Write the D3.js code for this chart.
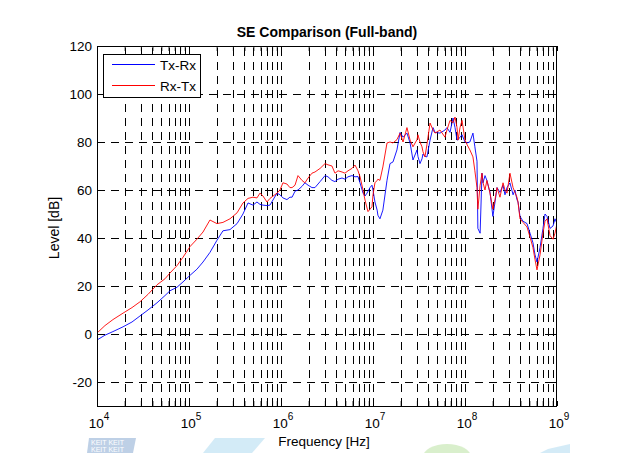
<!DOCTYPE html>
<html><head><meta charset="utf-8">
<script src="https://cdn.jsdelivr.net/npm/d3@7"></script>
<style>
body{margin:0;background:#fff;}
svg text{font-family:"Liberation Sans",Arial,Helvetica,sans-serif;fill:#000;}
</style></head>
<body>
<svg id="chart" width="619" height="453"></svg>
<script>
// ---------- data ----------
const title = "SE Comparison (Full-band)";
const xLabel = "Frequency [Hz]";
const yLabel = "Level [dB]";
const seriesNames = ["Tx-Rx", "Rx-Tx"];
const xDecades = [4, 5, 6, 7, 8, 9];
const yTicks = [-20, 0, 20, 40, 60, 80, 100, 120];

const freq = [1.00e4,1.22e4,1.49e4,1.92e4,2.40e4,2.93e4,3.58e4,4.49e4,5.48e4,6.21e4,7.41e4,8.61e4,
1.03e5,1.22e5,1.42e5,1.69e5,2.01e5,2.34e5,2.79e5,3.33e5,3.86e5,4.38e5,4.96e5,5.48e5,5.91e5,6.37e5,7.04e5,7.59e5,9.05e5,9.75e5,
1.05e6,1.16e6,1.25e6,1.32e6,1.42e6,1.53e6,1.69e6,1.82e6,1.97e6,2.17e6,2.34e6,2.66e6,3.01e6,3.24e6,3.58e6,3.86e6,4.17e6,4.61e6,4.96e6,5.35e6,5.91e6,6.37e6,6.87e6,7.22e6,7.79e6,8.19e6,8.61e6,8.83e6,9.28e6,9.75e6,
1.00e7,1.05e7,1.11e7,1.13e7,1.19e7,1.28e7,1.42e7,1.53e7,1.65e7,1.82e7,1.97e7,2.12e7,2.34e7,2.53e7,2.72e7,3.01e7,3.08e7,3.24e7,3.41e7,3.49e7,3.67e7,3.86e7,4.17e7,4.49e7,4.72e7,5.35e7,6.06e7,6.37e7,6.87e7,7.41e7,7.79e7,8.19e7,8.40e7,8.83e7,9.28e7,
1.00e8,1.05e8,1.13e8,1.22e8,1.28e8,1.35e8,1.38e8,1.46e8,1.53e8,1.57e8,1.65e8,1.73e8,1.87e8,2.01e8,2.12e8,2.23e8,2.40e8,2.59e8,2.72e8,2.86e8,3.08e8,3.33e8,3.49e8,3.67e8,3.77e8,3.96e8,4.27e8,4.72e8,5.09e8,5.48e8,5.77e8,6.06e8,6.54e8,7.04e8,7.41e8,7.79e8,8.40e8,9.05e8,9.51e8,1.00e9];

const txRx = [-2.5,-0.5,1,3,5,7.5,10,13,16,18,19.5,21.7,
24.5,27,30,34,39,43,43.5,46,50,54.6,53.7,55,54,53.7,53.5,53.7,58.7,58,
56.7,56,57,57,59.5,60,61.5,63,62,61,61,63.5,66,65.5,64,63.5,64.5,65,64.5,65.5,66,65.5,65.6,63,58.7,57.5,58.7,59.5,61,62,
60,55,51.6,49.5,48,51.6,64,71,71.7,76.7,84,82,83.7,79.6,72.5,76.7,74,71,73,75,74,73.8,80.8,86,84,83.7,85,86,84,90,86,80.8,81,82,83,
80,79.6,80,83.7,78,72,44,42,67,63,66,64,59,49,55,61,59,62,58,61,63,58,60,56,55,49,47,46,42,38,33,30,36,44,50,49,44,45,48,46];

const rxTx = [0.4,3.5,6,8.7,11,13.4,16.5,20.5,23,25.4,28.5,32,
36.5,39.5,42.5,47.5,46,46.5,48,50.5,54.6,56.5,57,56.7,58.7,57.5,55,56.5,58.7,60,
63,62.5,61,61,62,66,64,63,65,67,67.5,69,71,70.5,70,67,68,67.5,67,68,69,70.4,68,65.6,60,55.8,52.5,51,52,53,
58,63,64,64.5,64,69.6,79.6,80,79.6,81,83.7,80,86,80.8,78,81,83,80,78,76,73.8,79,87.9,85,83.7,85,82,85,89,88,90.4,86,80.8,86,89,
80.8,79,76.7,73.8,68,61,52,62,67,63,60,64,58.7,52,56,61,57,63,60,58.7,67,61,59,57,55,48,46.5,44.6,40.4,36,31,26.7,33,42,47,48,41,39.5,42,46];

const colors = ["#0000ff", "#ff0000"];

// ---------- layout ----------
const svg = d3.select("#chart");
const L = 97, R = 557, T = 46, B = 406;
const x = d3.scaleLog().domain([1e4, 1e9]).range([L, R]);
const y = d3.scaleLinear().domain([-30, 120]).range([B, T]);

svg.append("rect").attr("width",619).attr("height",453).attr("fill","#fff");

// faint watermark remnants along bottom edge
const wm = svg.append("g").attr("opacity",0.5);
wm.append("path").attr("d","M89,438 L136,438 L133,453 L87,453 Z").attr("fill","#7fa3cf");
wm.append("path").attr("d","M215,438 L265,438 L252,453 L203,453 Z").attr("fill","#a9d8f0");
wm.append("ellipse").attr("cx",447).attr("cy",457).attr("rx",24).attr("ry",13).attr("fill","#b5e09a");
wm.append("path").attr("d","M548,449 L570,444 L570,453 L540,453 Z").attr("fill","#a9d8f0");
wm.append("text").attr("x",91).attr("y",445).attr("font-size",7).style("fill","#fff").text("KEIT KEIT");
wm.append("text").attr("x",91).attr("y",452).attr("font-size",7).style("fill","#fff").text("KEIT KEIT");

// grid
const minorVals = [];
for (let e = 4; e < 9; e++) for (let m = 1; m <= 9; m++) minorVals.push(m * Math.pow(10, e));
const gridX = minorVals.filter(v => v > 1e4 && v < 1e9);
const grid = svg.append("g").attr("stroke","#000").attr("stroke-width",1).attr("stroke-dasharray","8,6");
grid.selectAll("line.v").data(gridX).join("line")
  .attr("x1", d => Math.round(x(d)) + 0.5).attr("x2", d => Math.round(x(d)) + 0.5)
  .attr("y1", B).attr("y2", T);
grid.selectAll("line.h").data(yTicks.filter(v => v < 120)).join("line")
  .attr("y1", d => Math.round(y(d)) + 0.5).attr("y2", d => Math.round(y(d)) + 0.5)
  .attr("x1", L).attr("x2", R);

// axes ticks (inside)
const tickLen = 5;
const axB = svg.append("g").attr("transform",`translate(0,${B})`)
  .call(d3.axisBottom(x).tickValues(minorVals.concat([1e9])).tickFormat("").tickSizeInner(-tickLen).tickSizeOuter(0));
const axT = svg.append("g").attr("transform",`translate(0,${T})`)
  .call(d3.axisTop(x).tickValues(minorVals.concat([1e9])).tickFormat("").tickSizeInner(-tickLen).tickSizeOuter(0));
const axL = svg.append("g").attr("transform",`translate(${L},0)`)
  .call(d3.axisLeft(y).tickValues(yTicks).tickFormat("").tickSizeInner(-tickLen).tickSizeOuter(0));
const axR = svg.append("g").attr("transform",`translate(${R},0)`)
  .call(d3.axisRight(y).tickValues(yTicks).tickFormat("").tickSizeInner(-tickLen).tickSizeOuter(0));
[axB, axT, axL, axR].forEach(a => { a.selectAll(".domain").remove(); a.selectAll("line").attr("stroke","#000"); });

// curves
svg.append("clipPath").attr("id","pa").append("rect")
  .attr("x",L).attr("y",T).attr("width",R-L).attr("height",B-T);
const line = d3.line().x((d,i) => x(freq[i])).y(d => y(d));
const plot = svg.append("g").attr("clip-path","url(#pa)");
[txRx, rxTx].forEach((s, k) => {
  plot.append("path").datum(s).attr("d", line).attr("fill","none")
    .attr("stroke", colors[k]).attr("stroke-width", 0.9).attr("stroke-linejoin","round");
});

// box
svg.append("rect").attr("x",L+0.5).attr("y",T+0.5).attr("width",R-L-1).attr("height",B-T)
  .attr("fill","none").attr("stroke","#000").attr("stroke-width",1);

// tick labels
svg.append("g").selectAll("text").data(yTicks).join("text")
  .attr("x", L - 5).attr("y", d => y(d) + 5)
  .attr("text-anchor","end").attr("font-size",13.5).text(d => d);
const xl = svg.append("g").selectAll("text").data(xDecades).join("text")
  .attr("x", d => x(Math.pow(10, d)) + 2).attr("y", 428)
  .attr("text-anchor","middle").attr("font-size",13.5);
xl.append("tspan").text("10");
xl.append("tspan").attr("font-size",10).attr("dy",-8).text(d => d);

// labels
svg.append("text").attr("x",327).attr("y",37).attr("text-anchor","middle")
  .attr("font-size",14).attr("font-weight","bold").text(title);
svg.append("text").attr("x",324).attr("y",446).attr("text-anchor","middle")
  .attr("font-size",13.5).text(xLabel);
svg.append("text").attr("transform","translate(59,228) rotate(-90)").attr("text-anchor","middle")
  .attr("font-size",14).text(yLabel);

// legend
const lg = svg.append("g");
lg.append("rect").attr("x",103.5).attr("y",54.5).attr("width",97).attr("height",43)
  .attr("fill","#fff").attr("stroke","#000").attr("stroke-width",1);
seriesNames.forEach((n, i) => {
  const yy = 64.5 + i * 21;
  lg.append("line").attr("x1",112).attr("x2",155).attr("y1",yy).attr("y2",yy)
    .attr("stroke", colors[i]).attr("stroke-width",1);
  lg.append("text").attr("x",160).attr("y",yy + 5).attr("font-size",13.5).text(n);
});
</script>
</body></html>
